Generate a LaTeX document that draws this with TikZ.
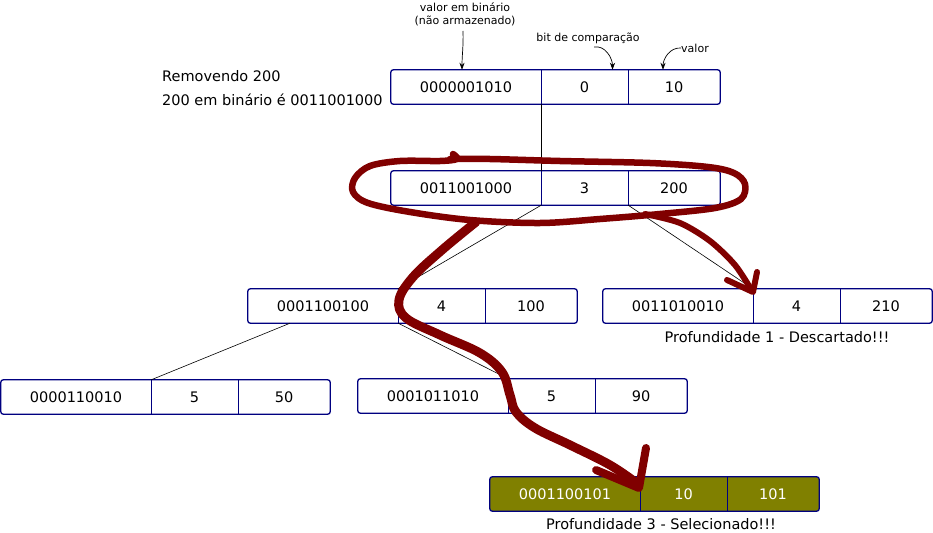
\documentclass[tikz,border=0pt]{standalone}
\usepackage{fontspec}
\setmainfont{DejaVu Sans}
\usetikzlibrary{arrows.meta}
\definecolor{boxblue}{HTML}{000080}
\definecolor{mark}{HTML}{800000}
\definecolor{sel}{HTML}{808000}
\tikzset{
  cell/.style={rectangle,inner sep=0pt,minimum height=34pt,font=\fontsize{14.5}{17}\selectfont},
  frame/.style={draw=boxblue,line width=1.3pt,rounded corners=2.5pt},
  divider/.style={draw=boxblue,line width=0.8pt},
  edge/.style={draw=black,line width=0.6pt},
  note/.style={font=\fontsize{11}{13}\selectfont,inner sep=0pt,align=center},
  notearrow/.style={draw=black,line width=0.7pt,-{Stealth[length=7pt,width=5pt]}},
  label/.style={font=\fontsize{14.5}{17}\selectfont,inner sep=0pt},
  redmark/.style={draw=mark,line width=7pt,line cap=round,line join=round},
}
\newcommand\recbox[8]{%
  \path[fill=#7,rounded corners=2.5pt] (#2,#3) rectangle ++(329,34);
  \node[cell,minimum width=150pt,text=#8] (#1a) at (#2+75,#3+17) {#4};
  \node[cell,minimum width=87pt,text=#8] (#1b) at (#2+193.5,#3+17) {#5};
  \node[cell,minimum width=92pt,text=#8] (#1c) at (#2+283,#3+17) {#6};
  \draw[frame] (#1a.north west) rectangle (#1c.south east);
  \draw[divider] (#1a.north east) -- (#1a.south east) (#1b.north east) -- (#1b.south east);
}
\begin{document}
\begin{tikzpicture}[x=1pt,y=-1pt]
\useasboundingbox (0,0) rectangle (933,532);

% boxes
\recbox{A}{391}{70}{0000001010}{0}{10}{none}{black}
\recbox{B}{391}{171}{0011001000}{3}{200}{none}{black}
\recbox{C}{248}{289}{0001100100}{4}{100}{none}{black}
\recbox{D}{603}{289}{0011010010}{4}{210}{none}{black}
\recbox{E}{1}{380}{0000110010}{5}{50}{none}{black}
\recbox{F}{358}{379}{0001011010}{5}{90}{none}{black}
\recbox{G}{490}{477}{0001100101}{10}{101}{sel}{white}

% texts
\node[label,anchor=west] (rem) at (162,76) {Removendo 200};
\node[label,anchor=west] (bin) at (162,100) {200 em binário é 0011001000};
\node[label] (prof1) at (777,337) {Profundidade 1 - Descartado!!!};
\node[label] (prof3) at (661,524) {Profundidade 3 - Selecionado!!!};

% annotations
\node[note] (nvb) at (465,14) {valor em binário\\(não armazenado)};
\node[note] (nbit) at (588,38) {bit de comparação};
\node[note,anchor=west] (nval) at (681,48) {valor};
\draw[notearrow] (463,31) to[out=-88,in=90] ([xshift=-4pt]Aa.north);
\draw[notearrow] (594,47) to[out=10,in=90] ([xshift=28pt]Ab.north);
\draw[notearrow] (nval.west) to[out=175,in=90] ([xshift=-11pt]Ac.north);

% tree edges
\draw[edge] (Aa.south east) -- (Ba.north east);
\draw[edge] (Ba.south east) -- (Cb.north west);
\draw[edge] (Bb.south east) -- (Db.north west);
\draw[edge] ([xshift=-33pt]Ca.south) -- (Ea.north east);
\draw[edge] (Ca.south east) -- (Fa.north east);

% red freehand marks
\draw[redmark,line width=6.5pt] plot[smooth,tension=0.55] coordinates {
  (453,154) (457,159) (440,161) (400,161) (370,166) (355,178) (353,192) (368,203)
  (410,212) (470,220) (540,223) (600,219) (660,214) (715,208) (741,199)
  (745,184) (734,173) (708,167) (650,163) (560,161) (490,159) (450,159)};
\draw[redmark,line width=6pt] plot[smooth,tension=0.5] coordinates {
  (645,214) (680,223) (710,241) (735,265) (752,291)};
\draw[redmark,line width=6pt] (727,280) -- (753,292) -- (757,272);
\draw[redmark,line width=9pt] plot[smooth,tension=0.6] coordinates {
  (476,222) (442,250) (413,277) (399,300) (406,318) (440,335) (480,353)
  (502,372) (510,395) (516,412) (535,428) (570,445) (610,465) (638,484)};
\draw[redmark,line width=8pt] (596,470) -- (639,488) -- (646,448);
\end{tikzpicture}
\end{document}
